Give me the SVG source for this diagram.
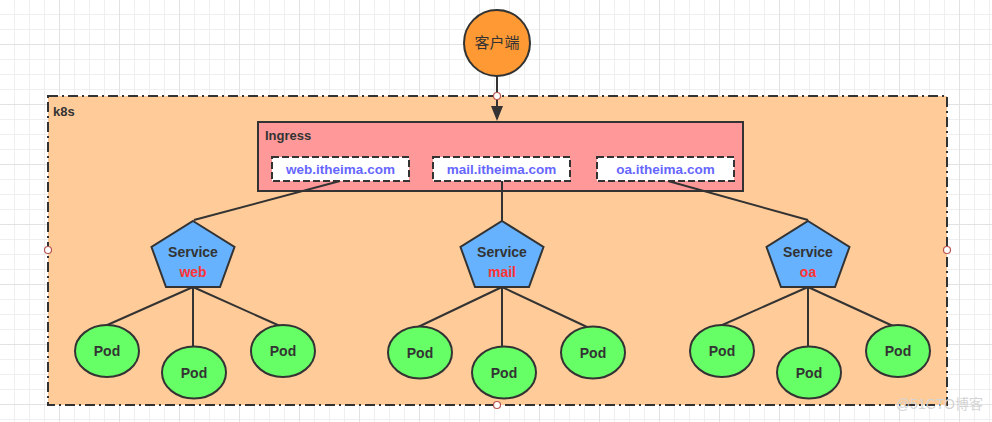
<svg xmlns="http://www.w3.org/2000/svg" width="992" height="422" viewBox="0 0 992 422">
<defs>
<pattern id="grid" x="0" y="0" width="60" height="60" patternUnits="userSpaceOnUse">
<path d="M14.5 0V60M29.5 0V60M44.5 0V60M0 14.5H60M0 29.5H60M0 59.5H60" stroke="#efefef" stroke-width="1" fill="none"/>
<path d="M59.5 0V60M0 44.5H60" stroke="#e2e2e2" stroke-width="1" fill="none"/>
</pattern>
</defs>
<style>
.ln{stroke:#333;stroke-width:2;fill:none}
.t{font-family:"Liberation Sans","Noto Sans CJK SC",sans-serif;font-weight:bold;fill:#333;font-size:13px}
.b{font-size:14px}
.dom{fill:#fff;stroke:#333;stroke-width:2;stroke-dasharray:7 3}
.dt{font-family:"Liberation Sans",sans-serif;font-weight:bold;fill:#6666ff;font-size:13.5px;text-anchor:middle}
.svc{fill:#66b2ff;stroke:#333;stroke-width:2}
.red{fill:#ff3333}
.pod{fill:#66ff66;stroke:#333;stroke-width:2}
.pt{text-anchor:middle}
.cp{fill:#fff;stroke:#b85450;stroke-width:1.2}
</style>
<rect width="992" height="422" fill="#fff"/>
<rect width="992" height="422" fill="url(#grid)"/>

<g id="k8s">
<rect x="48" y="96" width="899" height="309" fill="#ffcc99" stroke="#333" stroke-width="2" stroke-dasharray="10 4 2 4"/>
<text class="t" x="53" y="116">k8s</text>
</g>

<g id="ingress">
<rect x="258" y="122" width="485" height="69" fill="#ff9999" stroke="#333" stroke-width="2"/>
<text class="t" x="265" y="140">Ingress</text>
</g>

<g id="client">
<circle cx="497" cy="43" r="33" fill="#ff9933" stroke="#333" stroke-width="2"/>
<text class="t" x="497" y="48" text-anchor="middle" style="font-weight:normal;font-size:15px">客户端</text>
</g>

<g id="connectors">
<line class="ln" x1="497" y1="76" x2="497" y2="108"/>
<polygon points="491,106 503,106 497,121" fill="#333"/>
<line class="ln" x1="340" y1="181" x2="194" y2="220"/>
<line class="ln" x1="502" y1="181" x2="502" y2="221"/>
<line class="ln" x1="668" y1="181" x2="808" y2="220"/>
<path class="ln" d="M193 287L105 326M193 287V347M193 287L280 326"/>
<path class="ln" d="M502 287L418 327M502 287V347M502 287L587 327"/>
<path class="ln" d="M808 287L720 326M808 287V347M808 287L893 326"/>
</g>

<g id="dom-web">
<rect class="dom" x="272" y="157" width="137" height="24"/>
<text class="dt" x="340.5" y="174">web.itheima.com</text>
</g>
<g id="dom-mail">
<rect class="dom" x="433" y="157" width="137" height="24"/>
<text class="dt" x="501.5" y="174">mail.itheima.com</text>
</g>
<g id="dom-oa">
<rect class="dom" x="597" y="157" width="137" height="24"/>
<text class="dt" x="665.5" y="174">oa.itheima.com</text>
</g>

<g id="svc-web">
<polygon class="svc" points="193,221 234.5,247 220,287 166,287 151.5,247"/>
<text class="t b pt" x="193" y="257">Service</text>
<text class="t b pt red" x="193" y="277">web</text>
</g>
<g id="svc-mail">
<polygon class="svc" points="502,221 543.5,247 529,287 475,287 460.5,247"/>
<text class="t b pt" x="502" y="257">Service</text>
<text class="t b pt red" x="502" y="277">mail</text>
</g>
<g id="svc-oa">
<polygon class="svc" points="808,221 849.5,247 835,287 781,287 766.5,247"/>
<text class="t b pt" x="808" y="257">Service</text>
<text class="t b pt red" x="808" y="277">oa</text>
</g>

<g id="pod-web-1"><ellipse class="pod" cx="107" cy="351" rx="32" ry="26"/><text class="t b pt" x="107" y="356">Pod</text></g>
<g id="pod-web-2"><ellipse class="pod" cx="194" cy="372.5" rx="32" ry="26"/><text class="t b pt" x="194" y="377.5">Pod</text></g>
<g id="pod-web-3"><ellipse class="pod" cx="283" cy="351" rx="32" ry="26"/><text class="t b pt" x="283" y="356">Pod</text></g>
<g id="pod-mail-1"><ellipse class="pod" cx="420" cy="352.5" rx="32" ry="26"/><text class="t b pt" x="420" y="357.5">Pod</text></g>
<g id="pod-mail-2"><ellipse class="pod" cx="504" cy="372.5" rx="32" ry="26"/><text class="t b pt" x="504" y="377.5">Pod</text></g>
<g id="pod-mail-3"><ellipse class="pod" cx="593" cy="352.5" rx="32" ry="26"/><text class="t b pt" x="593" y="357.5">Pod</text></g>
<g id="pod-oa-1"><ellipse class="pod" cx="722" cy="351" rx="32" ry="26"/><text class="t b pt" x="722" y="356">Pod</text></g>
<g id="pod-oa-2"><ellipse class="pod" cx="809" cy="372.5" rx="32" ry="26"/><text class="t b pt" x="809" y="377.5">Pod</text></g>
<g id="pod-oa-3"><ellipse class="pod" cx="898" cy="351" rx="32" ry="26"/><text class="t b pt" x="898" y="356">Pod</text></g>

<g id="handles">
<circle class="cp" cx="497" cy="96" r="3.5"/>
<circle class="cp" cx="48" cy="250" r="3.5"/>
<circle class="cp" cx="947" cy="250" r="3.5"/>
<circle class="cp" cx="497" cy="405" r="3.5"/>
</g>

<text x="983" y="409" text-anchor="end" font-family="Liberation Sans,Noto Sans CJK SC,sans-serif" font-size="14" fill="#d4d4d4">@51CTO博客</text>
</svg>
